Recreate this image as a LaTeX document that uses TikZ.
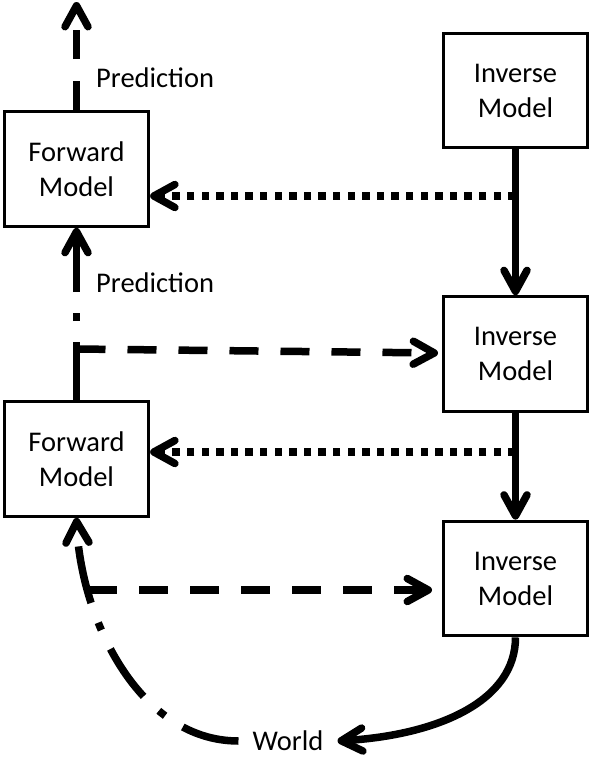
\documentclass[tikz,border=0pt]{standalone}
\usepackage{fontspec}
\setmainfont{Carlito}
\usetikzlibrary{arrows.meta}
\tikzset{
  box/.style={draw, line width=3.3pt, minimum width=144pt, minimum height=114.5pt,
    align=center, inner sep=0pt, font=\fontsize{28.5}{35}\selectfont},
  conn/.style={line width=7.5pt, -{Straight Barb[length=21pt,width=23pt,round]}},
  dashedconn/.style={conn, dash pattern=on 29pt off 22pt},
  dotconn/.style={conn, dash pattern=on 7.3pt off 7.3pt},
  dashdotconn/.style={conn, dash pattern=on 58pt off 21pt on 8pt off 21pt},
  lbl/.style={font=\fontsize{28.5}{35}\selectfont, inner sep=0pt, anchor=base west}
}
\begin{document}
\begin{tikzpicture}[x=1pt,y=-1pt]
\useasboundingbox (0,0) rectangle (591,758);
% boxes
\node[box] (fwd1) at (76.5,169) {Forward\\Model};
\node[box] (fwd2) at (76.5,459) {Forward\\Model};
\node[box] (inv1) at (515.5,90.5) {Inverse\\Model};
\node[box] (inv2) at (515.5,354) {Inverse\\Model};
\node[box] (inv3) at (515.5,578.5) {Inverse\\Model};
% labels
\node[lbl] (pred1) at (96,87) {Prediction};
\node[lbl] (pred2) at (96,292) {Prediction};
\node[font=\fontsize{28.5}{35}\selectfont, inner xsep=14pt, inner ysep=0pt] (world) at (288,741) {World};
% helper coordinates
\coordinate (ptop) at (76.5,2);
\coordinate (d1) at (515.5,196);
\coordinate (d2) at (515.5,452);
\coordinate (b1) at (76.5,349);
\coordinate (e1) at (438,353);
\coordinate (b2) at (88,590);
\coordinate (e2) at (432,590);
% connectors
\draw[dashedconn] (fwd1.north) -- (ptop);
\draw[dotconn] (d1) -- (d1 -| fwd1.east);
\draw[conn] (inv1.south) -- (inv2.north);
\draw[dashdotconn] (fwd2.north) -- (fwd1.south);
\draw[dashedconn] (b1) -- (e1);
\draw[dotconn] (d2) -- (d2 -| fwd2.east);
\draw[conn] (inv2.south) -- (inv3.north);
\draw[dashedconn] (b2) -- (e2);
\draw[conn] (inv3.south) .. controls +(0,63) and +(102,-6) .. (world.east);
\draw[dashdotconn] (world.west) .. controls +(-100,0) and +(4,100) .. (fwd2.south);
\end{tikzpicture}
\end{document}
